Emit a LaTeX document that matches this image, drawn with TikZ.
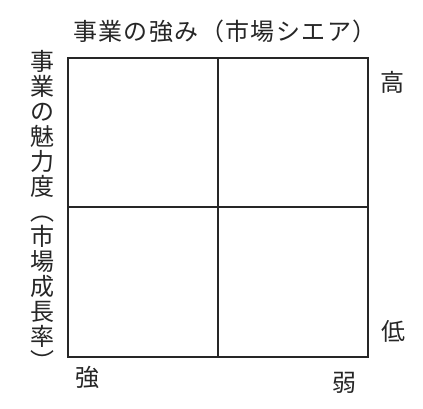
\documentclass[tikz,border=0pt]{standalone}
\usepackage{fontspec}
\newfontfamily\jp{Noto Sans CJK JP}
\begin{document}
\begin{tikzpicture}[x=1pt,y=-1pt,
  jch/.style={inner sep=0pt, font=\jp\fontsize{24}{24}\selectfont, text height=0.88em, text depth=0.12em, text=black!85},
  gridline/.style={line width=1.6pt, draw=black!85}]
\useasboundingbox (0,0) rectangle (423,409);
\fill[white] (0,0) rectangle (423,409);
% grid
\coordinate (tl) at (68,58);
\coordinate (br) at (368,357);
\coordinate (tm) at (218,58);
\coordinate (bm) at (218,357);
\coordinate (lm) at (68,207);
\coordinate (rm) at (368,207);
\draw[gridline] (tl) rectangle (br);
\draw[gridline] (tm) -- (bm);
\draw[gridline] (lm) -- (rm);
% title
\foreach \c [count=\i from 0] in {事,業,の,強,み,（,市,場,シ,エ,ア,）}
  \node[jch] (t\i) at (85+25.4*\i,37) {\c};
% vertical label
\foreach \c [count=\i from 0] in {事,業,の,魅,力,度,︵,市,場,成,長,率,︶}
  \node[jch] (v\i) at (42,67+25*\i) {\c};
% axis ends
\node[jch] (hi) at (392,88) {高};
\node[jch] (lo) at (393,337) {低};
\node[jch] (st) at (87,383) {強};
\node[jch] (wk) at (344,388) {弱};
\end{tikzpicture}
\end{document}
